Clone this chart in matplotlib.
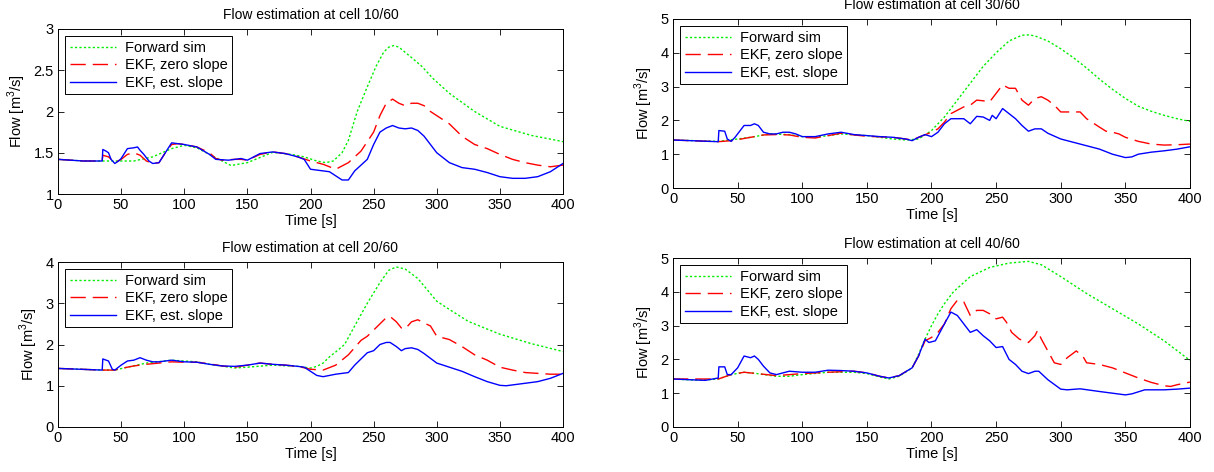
import matplotlib
matplotlib.use("Agg")
import matplotlib.pyplot as plt

plt.rcParams['font.family'] = ['Liberation Sans', 'DejaVu Sans']
plt.rcParams['mathtext.fontset'] = 'custom'
plt.rcParams['mathtext.rm'] = 'Liberation Sans'

# ---------------- data: cell 10/60 ----------------
c10_fwd_t = [0, 20, 35, 60, 75, 90, 100, 110, 120, 137, 150, 170, 185, 195, 205, 212, 218, 225, 230, 237, 245, 252, 258, 262, 266, 270, 278, 288, 297, 310, 330, 350, 375, 400]
c10_fwd_q = [1.42, 1.40, 1.40, 1.40, 1.45, 1.55, 1.59, 1.56, 1.48, 1.345, 1.38, 1.505, 1.48, 1.45, 1.40, 1.38, 1.40, 1.50, 1.65, 2.00, 2.30, 2.55, 2.72, 2.78, 2.80, 2.78, 2.68, 2.55, 2.40, 2.22, 2.00, 1.82, 1.71, 1.635]

c10_zero_t = [0, 20, 35, 35.5, 40, 45, 50, 55, 60, 65, 70, 75, 80, 85, 90, 95, 100, 110, 120, 125, 130, 140, 145, 150, 160, 170, 180, 190, 200, 210, 220, 230, 240, 250, 255, 260, 265, 270, 275, 280, 285, 290, 295, 300, 310, 320, 330, 340, 350, 360, 370, 380, 390, 400]
c10_zero_q = [1.42, 1.40, 1.40, 1.47, 1.45, 1.38, 1.42, 1.48, 1.50, 1.47, 1.40, 1.37, 1.38, 1.50, 1.60, 1.61, 1.60, 1.57, 1.50, 1.43, 1.41, 1.42, 1.42, 1.41, 1.48, 1.51, 1.49, 1.45, 1.40, 1.36, 1.30, 1.38, 1.52, 1.75, 1.95, 2.10, 2.15, 2.10, 2.07, 2.10, 2.10, 2.07, 2.00, 1.95, 1.85, 1.70, 1.60, 1.55, 1.48, 1.42, 1.38, 1.35, 1.33, 1.35]

c10_est_t = [0, 20, 35, 35.5, 38, 40, 42, 45, 48, 50, 55, 60, 63, 65, 68, 72, 75, 80, 85, 90, 95, 100, 110, 120, 125, 135, 145, 150, 160, 170, 180, 190, 195, 200, 210, 215, 220, 225, 230, 235, 240, 245, 250, 255, 260, 265, 270, 275, 280, 285, 290, 295, 300, 310, 320, 330, 340, 350, 360, 370, 380, 390, 400]
c10_est_q = [1.42, 1.40, 1.40, 1.54, 1.52, 1.50, 1.42, 1.37, 1.40, 1.43, 1.55, 1.56, 1.57, 1.53, 1.48, 1.40, 1.37, 1.38, 1.50, 1.62, 1.61, 1.60, 1.57, 1.48, 1.42, 1.41, 1.43, 1.41, 1.49, 1.51, 1.49, 1.45, 1.42, 1.30, 1.28, 1.27, 1.22, 1.17, 1.17, 1.28, 1.35, 1.42, 1.60, 1.75, 1.80, 1.83, 1.80, 1.79, 1.80, 1.77, 1.70, 1.60, 1.50, 1.38, 1.32, 1.30, 1.26, 1.21, 1.19, 1.19, 1.21, 1.27, 1.37]

# ---------------- data: cell 30/60 ----------------
c30_fwd_t = [0, 35, 50, 60, 75, 90, 100, 110, 130, 150, 160, 170, 180, 190, 200, 210, 220, 230, 240, 250, 260, 270, 275, 280, 290, 300, 310, 320, 330, 340, 350, 360, 370, 380, 390, 400]
c30_fwd_q = [1.42, 1.38, 1.45, 1.50, 1.60, 1.58, 1.52, 1.50, 1.60, 1.55, 1.50, 1.45, 1.42, 1.45, 1.70, 2.10, 2.60, 3.10, 3.60, 4.00, 4.35, 4.52, 4.53, 4.50, 4.35, 4.12, 3.85, 3.55, 3.22, 2.92, 2.65, 2.42, 2.27, 2.15, 2.05, 1.97]

c30_zero_t = [0, 35, 45, 50, 60, 70, 80, 90, 100, 110, 120, 130, 140, 150, 170, 180, 185, 190, 200, 205, 210, 215, 220, 225, 230, 235, 240, 245, 250, 255, 260, 265, 270, 275, 280, 285, 290, 295, 300, 310, 315, 320, 330, 335, 340, 345, 350, 360, 370, 380, 390, 400]
c30_zero_q = [1.42, 1.37, 1.40, 1.43, 1.50, 1.57, 1.58, 1.57, 1.50, 1.48, 1.55, 1.62, 1.57, 1.53, 1.50, 1.45, 1.42, 1.50, 1.65, 1.75, 1.95, 2.20, 2.30, 2.40, 2.45, 2.60, 2.58, 2.55, 2.80, 3.05, 2.95, 2.95, 2.60, 2.45, 2.65, 2.70, 2.60, 2.45, 2.25, 2.25, 2.25, 2.05, 1.80, 1.68, 1.65, 1.60, 1.50, 1.38, 1.30, 1.27, 1.28, 1.30]

c30_est_t = [0, 35, 35.5, 40, 42, 45, 48, 52, 55, 60, 63, 66, 70, 75, 80, 85, 90, 95, 100, 110, 120, 130, 140, 150, 160, 170, 180, 185, 190, 195, 200, 205, 210, 215, 220, 225, 230, 235, 240, 245, 247, 250, 255, 260, 265, 270, 275, 280, 285, 290, 300, 310, 320, 330, 340, 350, 355, 360, 370, 380, 390, 400]
c30_est_q = [1.42, 1.37, 1.70, 1.68, 1.45, 1.38, 1.50, 1.70, 1.85, 1.85, 1.90, 1.85, 1.65, 1.60, 1.60, 1.65, 1.65, 1.60, 1.52, 1.52, 1.60, 1.65, 1.58, 1.55, 1.52, 1.50, 1.45, 1.40, 1.50, 1.58, 1.52, 1.65, 1.90, 2.05, 2.05, 2.05, 1.90, 2.12, 2.10, 2.00, 2.15, 2.05, 2.35, 2.20, 2.05, 1.85, 1.68, 1.75, 1.75, 1.62, 1.45, 1.35, 1.25, 1.15, 1.00, 0.90, 0.92, 1.00, 1.06, 1.10, 1.15, 1.22]

# ---------------- data: cell 20/60 ----------------
c20_fwd_t = [0, 35, 45, 55, 70, 90, 100, 110, 120, 140, 150, 170, 190, 200, 205, 210, 215, 220, 227, 235, 245, 255, 262, 268, 275, 285, 300, 310, 325, 350, 375, 400]
c20_fwd_q = [1.42, 1.38, 1.38, 1.45, 1.55, 1.62, 1.60, 1.58, 1.52, 1.43, 1.45, 1.50, 1.47, 1.43, 1.47, 1.55, 1.70, 1.82, 2.00, 2.45, 3.00, 3.50, 3.80, 3.88, 3.83, 3.60, 3.05, 2.85, 2.56, 2.25, 2.02, 1.83]

c20_zero_t = [0, 35, 45, 50, 60, 70, 80, 90, 100, 110, 120, 130, 140, 150, 160, 170, 180, 190, 200, 210, 220, 230, 240, 245, 250, 255, 260, 263, 268, 272, 275, 280, 285, 290, 295, 300, 310, 320, 330, 340, 350, 360, 370, 380, 390, 400]
c20_zero_q = [1.42, 1.38, 1.38, 1.42, 1.48, 1.52, 1.55, 1.58, 1.57, 1.57, 1.53, 1.48, 1.45, 1.50, 1.55, 1.52, 1.50, 1.47, 1.40, 1.38, 1.50, 1.75, 2.10, 2.20, 2.35, 2.50, 2.65, 2.68, 2.55, 2.40, 2.38, 2.55, 2.60, 2.52, 2.45, 2.20, 2.12, 1.95, 1.75, 1.62, 1.45, 1.38, 1.32, 1.30, 1.28, 1.28]

c20_est_t = [0, 35, 35.5, 40, 43, 45, 50, 55, 60, 65, 70, 75, 80, 90, 100, 110, 120, 130, 140, 150, 160, 170, 180, 190, 195, 200, 205, 210, 220, 230, 235, 240, 245, 250, 255, 260, 263, 268, 272, 275, 280, 285, 290, 300, 310, 320, 330, 340, 350, 355, 360, 370, 380, 390, 400]
c20_est_q = [1.42, 1.38, 1.65, 1.60, 1.40, 1.38, 1.50, 1.60, 1.62, 1.68, 1.62, 1.58, 1.58, 1.62, 1.58, 1.57, 1.52, 1.48, 1.47, 1.50, 1.55, 1.52, 1.50, 1.47, 1.45, 1.35, 1.25, 1.22, 1.28, 1.32, 1.50, 1.65, 1.80, 1.85, 2.00, 2.05, 2.05, 1.95, 1.85, 1.90, 1.92, 1.88, 1.78, 1.55, 1.45, 1.35, 1.22, 1.10, 1.01, 1.00, 1.02, 1.06, 1.10, 1.18, 1.30]

# ---------------- data: cell 40/60 ----------------
c40_fwd_t = [0, 20, 35, 45, 55, 65, 80, 90, 100, 120, 140, 150, 160, 167, 175, 185, 190, 195, 200, 205, 210, 217, 230, 245, 260, 275, 285, 300, 320, 340, 360, 380, 400]
c40_fwd_q = [1.42, 1.38, 1.42, 1.55, 1.62, 1.58, 1.50, 1.50, 1.55, 1.62, 1.62, 1.58, 1.48, 1.42, 1.50, 1.75, 2.15, 2.60, 3.00, 3.35, 3.65, 4.00, 4.45, 4.72, 4.85, 4.90, 4.80, 4.45, 3.95, 3.50, 3.05, 2.55, 1.97]

c40_zero_t = [0, 35, 45, 55, 65, 80, 90, 100, 120, 140, 150, 160, 167, 175, 185, 190, 195, 200, 205, 210, 215, 220, 225, 230, 235, 240, 245, 250, 255, 258, 262, 268, 275, 280, 282, 285, 290, 295, 300, 305, 312, 317, 320, 330, 340, 350, 360, 370, 380, 385, 390, 400]
c40_zero_q = [1.42, 1.42, 1.55, 1.62, 1.58, 1.52, 1.55, 1.58, 1.62, 1.65, 1.60, 1.50, 1.45, 1.52, 1.75, 2.10, 2.55, 2.65, 2.80, 3.05, 3.50, 3.75, 3.70, 3.30, 3.45, 3.45, 3.35, 3.20, 3.25, 3.10, 2.80, 2.60, 2.50, 2.70, 2.85, 2.60, 2.25, 1.90, 1.85, 2.05, 2.25, 2.10, 1.90, 1.85, 1.75, 1.60, 1.45, 1.32, 1.22, 1.20, 1.25, 1.33]

c40_est_t = [0, 25, 35, 35.5, 40, 42, 45, 50, 55, 60, 63, 66, 70, 75, 80, 90, 100, 110, 120, 130, 140, 150, 160, 167, 175, 185, 190, 195, 198, 203, 210, 215, 220, 225, 230, 235, 240, 245, 250, 255, 260, 265, 270, 275, 280, 283, 290, 300, 305, 315, 330, 340, 350, 355, 365, 380, 390, 400]
c40_est_q = [1.42, 1.38, 1.45, 1.78, 1.78, 1.55, 1.55, 1.75, 2.10, 2.05, 2.10, 2.00, 1.80, 1.60, 1.55, 1.65, 1.62, 1.62, 1.68, 1.67, 1.65, 1.60, 1.50, 1.45, 1.52, 1.75, 2.10, 2.60, 2.50, 2.55, 3.05, 3.40, 3.30, 3.05, 2.80, 2.88, 2.70, 2.55, 2.35, 2.38, 2.00, 1.85, 1.65, 1.58, 1.65, 1.65, 1.40, 1.12, 1.10, 1.13, 1.05, 1.00, 0.95, 0.98, 1.10, 1.10, 1.12, 1.15]

titles = ["Flow estimation at cell 10/60", "Flow estimation at cell 30/60",
          "Flow estimation at cell 20/60", "Flow estimation at cell 40/60"]
legend_labels = ["Forward sim", "EKF, zero slope", "EKF, est. slope"]
ylims = [(1, 3), (0, 5), (0, 4), (0, 5)]
yticks = [[1, 1.5, 2, 2.5, 3], [0, 1, 2, 3, 4, 5], [0, 1, 2, 3, 4], [0, 1, 2, 3, 4, 5]]
xticks = [0, 50, 100, 150, 200, 250, 300, 350, 400]

series = [
    (c10_fwd_t, c10_fwd_q, c10_zero_t, c10_zero_q, c10_est_t, c10_est_q),
    (c30_fwd_t, c30_fwd_q, c30_zero_t, c30_zero_q, c30_est_t, c30_est_q),
    (c20_fwd_t, c20_fwd_q, c20_zero_t, c20_zero_q, c20_est_t, c20_est_q),
    (c40_fwd_t, c40_fwd_q, c40_zero_t, c40_zero_q, c40_est_t, c40_est_q),
]

W, H = 1214, 472
fig = plt.figure(figsize=(W / 100, H / 100), dpi=100)
# (left, top, right, bottom) in pixels
boxes = [(58, 29, 563, 194), (673, 19, 1190, 188), (58, 262, 563, 427), (673, 258, 1190, 427)]

fs = 10.5
for i, (l, t, r, b) in enumerate(boxes):
    ax = fig.add_axes([l / W, 1 - b / H, (r - l) / W, (b - t) / H])
    ft, fq, zt, zq, et, eq = series[i]
    ax.plot(ft, fq, color='#00ee00', linestyle=(0, (1.6, 1.6)), lw=1.0, label=legend_labels[0])
    ax.plot(zt, zq, color='#ff0000', linestyle=(0, (11, 5)), lw=1.0, label=legend_labels[1])
    ax.plot(et, eq, color='#0000ff', linestyle='-', lw=1.0, label=legend_labels[2])
    ax.set_xlim(0, 400)
    ax.set_ylim(*ylims[i])
    ax.set_xticks(xticks)
    ax.set_yticks(yticks[i])
    ax.set_yticklabels([f"{v:g}" for v in yticks[i]])
    ax.tick_params(direction='in', top=True, right=True, length=4, width=0.6, labelsize=fs, pad=3)
    for sp in ax.spines.values():
        sp.set_linewidth(0.7)
    ax.set_title(titles[i], fontsize=fs - 0.5, pad=7)
    ax.set_xlabel("Time [s]", fontsize=fs, labelpad=1)
    ax.set_ylabel("Flow [m$^3$/s]", fontsize=fs, labelpad=4)
    leg = ax.legend(loc='upper left', fontsize=fs, fancybox=False, framealpha=1,
                    edgecolor='black', handlelength=3.2, borderaxespad=0.5,
                    labelspacing=0.25, borderpad=0.3, handletextpad=0.6)
    leg.get_frame().set_linewidth(0.7)

fig.savefig("out.png", dpi=100)
